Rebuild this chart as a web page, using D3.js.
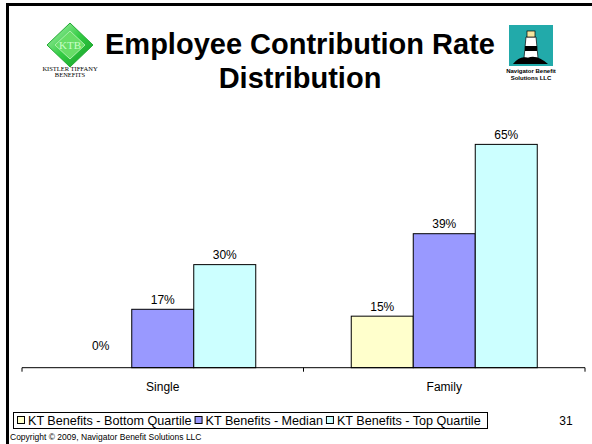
<!DOCTYPE html>
<html><head><meta charset="utf-8">
<script src="https://cdn.jsdelivr.net/npm/d3@7"></script>
<style>body{margin:0;background:#fff}svg{display:block}text{font-family:"Liberation Sans",Arial,sans-serif}</style>
</head><body>
<script>
const categories = ["Single", "Family"];
const seriesNames = ["KT Benefits - Bottom Quartile", "KT Benefits - Median", "KT Benefits - Top Quartile"];
const bottomQuartile = [0, 15];
const median = [17, 39];
const topQuartile = [30, 65];
const colors = ["#FFFFCC", "#9999FF", "#CCFFFF"];
const series = [bottomQuartile, median, topQuartile];

const W = 592, H = 444;
const svg = d3.select("body").append("svg").attr("width", W).attr("height", H);

// frame
svg.append("path").attr("d", `M7.5,${H} V4.5 H${W}`).attr("fill", "none").attr("stroke", "#000").attr("stroke-width", 3);

// title
const title = svg.append("text").attr("x", 300).attr("text-anchor", "middle")
  .style("font-weight", "bold").style("font-size", "29px");
title.append("tspan").attr("x", 300).attr("y", 54).text("Employee Contribution Rate");
title.append("tspan").attr("x", 300).attr("y", 88).text("Distribution");

// KTB logo
const g1 = svg.append("g");
const grad = svg.append("defs").append("linearGradient").attr("id", "gr").attr("x1", 0).attr("y1", 0).attr("x2", 1).attr("y2", 1);
grad.append("stop").attr("offset", 0).attr("stop-color", "#B8F5B8");
grad.append("stop").attr("offset", 0.5).attr("stop-color", "#33CC44");
grad.append("stop").attr("offset", 1).attr("stop-color", "#119922");
g1.append("polygon").attr("points", "70,23 93,45 70,67 47,45").attr("fill", "url(#gr)").attr("stroke", "#22aa33");
g1.append("polygon").attr("points", "70,31 85,45 70,59 55,45").attr("fill", "#66DD66").attr("stroke", "#AAF0AA");
g1.append("text").attr("x", 70).attr("y", 49).attr("text-anchor", "middle").style("font-family", "Liberation Serif,serif").style("font-size", "11px").attr("fill", "#C8FFC8").text("KTB");
g1.append("text").attr("x", 70).attr("y", 71).attr("text-anchor", "middle").style("font-family", "Liberation Serif,serif").style("font-size", "6.5px").text("KISTLER TIFFANY");
g1.append("text").attr("x", 70).attr("y", 77).attr("text-anchor", "middle").style("font-family", "Liberation Serif,serif").style("font-size", "6.5px").text("BENEFITS");

// Navigator logo
const g2 = svg.append("g");
g2.append("rect").attr("x", 509).attr("y", 25).attr("width", 44).attr("height", 41).attr("fill", "#22AAAA");
g2.append("polygon").attr("points", "526,37 536,37 538,58 524,58").attr("fill", "#fff").attr("stroke", "#000").attr("stroke-width", 0.7);
g2.append("rect").attr("x", 525).attr("y", 46).attr("width", 12).attr("height", 5).attr("fill", "#000");
g2.append("rect").attr("x", 527).attr("y", 31).attr("width", 8).attr("height", 6).attr("fill", "#F5E6A0").attr("stroke", "#000").attr("stroke-width", 0.7);
g2.append("path").attr("d", "M513,64 Q520,55 528,58 Q536,54 548,64 Z").attr("fill", "#000");
g2.append("text").attr("x", 531).attr("y", 73).attr("text-anchor", "middle").style("font-size", "6px").style("font-weight", "bold").text("Navigator Benefit");
g2.append("text").attr("x", 531).attr("y", 80).attr("text-anchor", "middle").style("font-size", "6px").style("font-weight", "bold").text("Solutions LLC");

// scales
const x0 = d3.scaleBand().domain(categories).range([22, 585]).paddingInner(0).paddingOuter(0);
const groupW = 186;
const x1 = d3.scaleBand().domain(seriesNames).range([0, groupW]);
const y = d3.scaleLinear().domain([0, 70]).range([367.7, 127.2]);

const barG = svg.append("g");
categories.forEach((c, ci) => {
  const gx = x0(c) + (x0.bandwidth() - groupW) / 2;
  series.forEach((s, si) => {
    const v = s[ci];
    const bx = gx + x1(seriesNames[si]);
    if (v > 0) {
      barG.append("rect").attr("x", bx).attr("y", y(v)).attr("width", x1.bandwidth()).attr("height", y(0) - y(v))
        .attr("fill", colors[si]).attr("stroke", "#000").attr("stroke-width", 1);
    }
    const ly = v > 0 ? y(v) - 5.5 : y(0) - 18;
    barG.append("text").attr("x", bx + x1.bandwidth() / 2).attr("y", ly).attr("text-anchor", "middle")
      .style("font-size", "12px").attr("fill", "#000").text(v + "%");
  });
});

// x axis
const axis = d3.axisBottom(x0).tickSize(0).tickPadding(15);
const ag = svg.append("g").attr("transform", `translate(0,${y(0)})`).call(axis);
ag.select(".domain").attr("d", `M22,4V0H585V4`).attr("stroke", "#000");
ag.selectAll(".tick text").style("font-size", "12px").style("font-family", "Liberation Sans,Arial,sans-serif").attr("fill", "#000");
ag.append("line").attr("x1", 303.5).attr("x2", 303.5).attr("y1", 0).attr("y2", 4).attr("stroke", "#000");

// legend
const lg = svg.append("g");
lg.append("rect").attr("x", 13.5).attr("y", 412.5).attr("width", 474).attr("height", 16).attr("fill", "#fff").attr("stroke", "#000");
let lx = 17;
seriesNames.forEach((n, i) => {
  lg.append("rect").attr("x", lx + 0.5).attr("y", 416.5).attr("width", 7).attr("height", 7).attr("fill", colors[i]).attr("stroke", "#000");
  const t = lg.append("text").attr("x", lx + 11).attr("y", 425).style("font-size", "12.6px").text(n);
  lx += 11 + t.node().getComputedTextLength() + 3;
});

svg.append("text").attr("x", 566).attr("y", 425).attr("text-anchor", "middle").style("font-size", "12px").text("31");
svg.append("text").attr("x", 10).attr("y", 440).style("font-size", "8.5px").text("Copyright © 2009, Navigator Benefit Solutions LLC");
</script>
</body></html>
